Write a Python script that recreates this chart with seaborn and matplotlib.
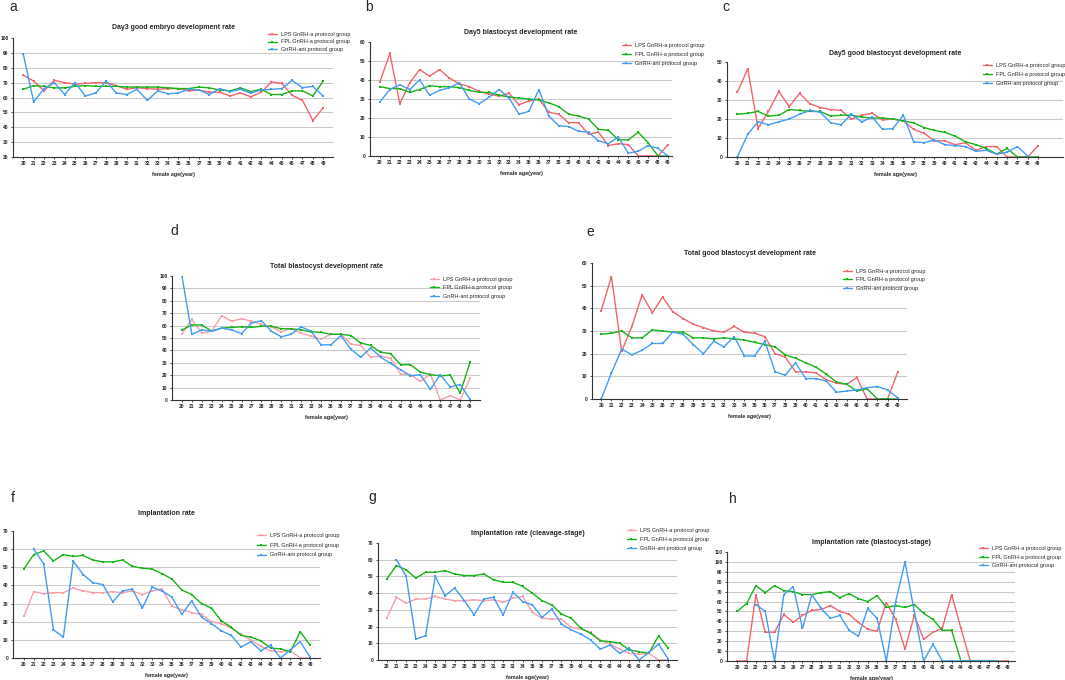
import numpy as np
import pandas as pd
import seaborn as sns
import matplotlib.pyplot as plt

nan = np.nan
ages = list(range(20, 50))
group_names = ["LPS GnRH-a protocol group", "FPL GnRH-a protocol group", "GnRH-ant protocol group"]

# a: Day3 good embryo development rate
a_lps = [75, 71, 64.5, 71.5, 70, 69, 69.5, 70, 70, 68, 65.5, 66.5, 66, 65.5, 66, 66, 64.5, 65, 63.5, 63.5,
         61, 63, 60.5, 63.5, 70.5, 69.5, 61.5, 58, 44.5, 53]
a_fpl = [65.5, 68, 67.5, 66.5, 66.5, 67.5, 68, 67.5, 67.5, 67.5, 67, 67, 67, 67, 66.5, 66, 66, 67, 66.5, 65,
         64.5, 66.5, 64, 65.5, 62, 62, 64.5, 64.5, 61, 71]
a_ant = [89, 57, 66, 70, 62, 70, 61, 63, 71, 63, 62, 65.5, 58, 64.5, 62.5, 63, 65.5, 65, 62, 66,
         64, 65.5, 63, 65, 65.5, 66, 71.5, 66.5, 67.5, 61]

# b: Day5 blastocyst development rate
b_lps = [39, 54, 27.5, 38.5, 45.5, 42, 45.5, 41, 38, 36.5, 34, 32.5, 31.5, 33, 27, 29, 30, 23, 22, 17.5,
         17.5, 11.5, 12.5, 5.5, 6.5, 6, 0, 0, 0, 6]
b_fpl = [36.5, 35.5, 35.5, 33.5, 35, 37, 36.5, 36.5, 36, 34.5, 33.5, 33.5, 32, 31, 30.5, 30, 29.5, 28, 26, 22,
         21, 19.5, 14, 13.5, 8.5, 8.5, 12.5, 7, 0, 0]
b_ant = [28.5, 35, 37.5, 35, 40, 32, 34.5, 36, 38.5, 30, 27.5, 31, 35, 30.5, 22, 23.5, 35, 21, 16, 15.5,
         13, 12.5, 8, 6.5, 10, 1.5, 2.5, 5.5, 4, 0]

# c: Day5 good blastocyst development rate
c_lps = [34, 46.5, 15, 24, 34.5, 26.5, 33.5, 28, 26, 25, 24.5, 20, 22, 23, 19.5, 20, 19, 14.5, 12.5, 8.5,
         8.5, 6.5, 7.5, 3.5, 5.5, 5.5, 0, 0, 0, 6]
c_fpl = [22.5, 23, 24, 21.5, 22, 25, 24.5, 24, 24, 21.5, 22, 22, 21, 20.5, 20.5, 20, 19, 18, 15.5, 14,
         13, 11, 8, 6.5, 4.5, 1.5, 4.5, 0, 0, 0]
c_ant = [0, 12, 18.5, 17, 18.5, 20, 22.5, 24.5, 23.5, 18, 17, 22.5, 18.5, 21, 14.5, 15, 22, 8, 7.5, 9,
         6.5, 6, 5.5, 3, 3.5, 1.5, 2.5, 5.5, 0.5, nan]

# d: Total blastocyst development rate
d_lps = [53.5, 65, 54, 55.5, 68, 63.5, 65.5, 63.5, 61, 59, 55, 57.5, 54, 51.5, 49, 53, 53, 45, 44, 34.5,
         35.5, 33.5, 21, 20.5, 15, 21, 0, 3.5, 0, 17.5]
d_fpl = [56.5, 60.5, 60.5, 55.5, 58, 58.5, 59, 58.5, 59.5, 59.5, 57.5, 57.5, 56.5, 55, 54.5, 53, 53, 52, 46, 44,
         38.5, 37.5, 28.5, 28.5, 22.5, 20.5, 19.5, 20, 5.5, 30.5]
d_ant = [100, 53, 56.5, 55.5, 58, 56.5, 53.5, 62, 64, 55.5, 51, 53, 59, 55.5, 44.5, 44.5, 52, 41, 34.5, 42,
         34.5, 29.5, 24.5, 19.5, 20.5, 8.5, 20.5, 10.5, 12.5, 0.5]

# e: Total good blastocyst development rate
e_lps = [39, 54, 21, 32, 46, 38, 45, 38.5, 35.5, 33, 31.5, 30, 29.5, 32, 29.5, 29, 27.5, 20, 18.5, 12,
         12, 11.5, 8.5, 7, 6.5, 9.5, 0, 0, 0, 12]
e_fpl = [28.5, 29, 30, 27, 27, 30.5, 30, 29.5, 29.5, 27, 27, 26.5, 27, 26.5, 26, 25, 24, 23, 19.5, 18,
         16, 14, 11, 7.5, 6.5, 3.5, 4.5, 0, 0, 0]
e_ant = [0, 11.5, 22, 19.5, 21.5, 24.5, 24.5, 29.5, 28.5, 24, 20, 25.5, 23, 27.5, 19, 19, 25.5, 12, 10.5, 16,
         9, 9, 8, 3, 3.5, 4, 5, 5.5, 4, 0.5]

# f: Implantation rate
f_lps = [23, 36.5, 35.5, 36, 36, 38.5, 37, 36, 36, 36.5, 36, 37, 35, 37, 38, 28.5, 26.5, 25, 24, 20,
         19, 16.5, 13, 10, 6.5, 4, 3.5, 4, 0, 0]
f_fpl = [49, 57, 59, 53.5, 57, 56, 56.5, 54, 53, 53, 54, 50.5, 49.5, 49, 46.5, 43.5, 37.5, 35, 30, 27.5,
         20.5, 17, 12.5, 11.5, 9.5, 5.5, 5, 3.5, 14.5, 7]
f_ant = [nan, 60, 52, 15.5, 11.5, 53.5, 46, 41.5, 40.5, 31, 37, 38, 27.5, 39, 37, 33.5, 24, 31.5, 22.5, 19,
         15, 12.5, 6, 9, 4, 7, 0, 4.5, 9, 0.5]

# g: Implantation rate (cleavage-stage)
g_lps = [25, 37.5, 34, 36.5, 36.5, 38, 36.5, 35.5, 35.5, 36, 35.5, 36, 34.5, 37, 38, 28.5, 25, 24.5, 24.5, 19.5,
         18.5, 16.5, 12, 9.5, 6.5, 4, 3.5, 4, 0, 0]
g_fpl = [48.5, 56.5, 54, 49, 52.5, 52.5, 53.5, 51.5, 50.5, 50.5, 51.5, 48, 46.5, 46.5, 44, 40, 35.5, 33, 27.5, 25,
         19, 16, 11.5, 11, 10, 6, 5, 4, 14.5, 7]
g_ant = [nan, 60, 50, 12.5, 14.5, 50, 38.5, 43, 35.5, 27, 36.5, 37.5, 27, 40.5, 35, 33, 25.5, 30.5, 21.5, 18,
         15.5, 12, 6.5, 9, 4, 7, 0, 4.5, 9.5, 0.5]

# h: Implantation rate (blastocyst-stage)
h_lps = [0, 0, 67, 29, 29, 47, 39, 46, 51, 52, 56, 50, 47, 39, 32, 30, 59, 42, 12, 46,
         22, 29, 33, 67, 33, 0, 0, 0, 0, 0]
h_fpl = [50, 58, 76, 69, 76, 71, 70, 67, 67, 69, 70, 64, 68, 63, 60, 66, 54, 56, 54, 57,
         48, 42, 31, 31, 0, 0, 0, 0, 0, nan]
h_ant = [nan, nan, 57, 50, 0, 67, 75, 33, 67, 53, 43, 46, 31, 25, 53, 43, 0, 60, 100, 50,
         0, 17, 0, 0, 0, 0, 0, 0, 0, nan]

W, H = 1065, 680
RED = "#f2646c"
PINK = "#f5a0a9"
GREEN = "#17b317"
BLUE = "#439cf3"


def px_rect(x0, y0, x1, y1):
    return [x0 / W, 1 - y1 / H, (x1 - x0) / W, (y1 - y0) / H]


# letter, title, series, ylim, axes box (px), xlim, title pad, letter xy (px), legend xy (px), legend spacing, red tone
panels = [
    ("a", "Day3 good embryo development rate", (a_lps, a_fpl, a_ant), (20, 100),
     (13, 38, 333, 157), (19.0, 49.95), 6.8, (13, 7), (268, 32), 0.45, RED),
    ("b", "Day5 blastocyst development rate", (b_lps, b_fpl, b_ant), (0, 60),
     (370, 42, 672, 156), (19.0, 49.4), 6.1, (369, 7), (622, 43), 0.75, RED),
    ("c", "Day5 good blastocyst development rate", (c_lps, c_fpl, c_ant), (0, 50),
     (727, 62, 1063, 157), (19.0, 51.4), 5.4, (726, 7), (983, 63), 0.7, RED),
    ("d", "Total blastocyst development rate", (d_lps, d_fpl, d_ant), (0, 100),
     (172, 276, 480, 400), (19.0, 50.0), 5.4, (174, 231), (430, 277), 0.6, PINK),
    ("e", "Total good blastocyst development rate", (e_lps, e_fpl, e_ant), (0, 60),
     (592, 263, 907, 399), (19.1, 49.9), 5.8, (590, 232), (843, 269), 0.6, RED),
    ("f", "Implantation rate", (f_lps, f_fpl, f_ant), (0, 70),
     (13, 531, 320, 658), (18.9, 50.0), 11.2, (13, 498), (257, 533), 0.85, PINK),
    ("g", "Implantation rate (cleavage-stage)", (g_lps, g_fpl, g_ant), (0, 70),
     (378, 543, 677, 660), (19.1, 49.9), 6.1, (372, 497), (627, 528), 0.75, PINK),
    ("h", "Implantation rate (blastocyst-stage)", (h_lps, h_fpl, h_ant), (0, 110),
     (727, 552, 1015, 661), (18.9, 49.8), 6.1, (733, 499), (979, 546), 0.65, RED),
]

sns.set_style("ticks")
plt.rcParams["font.family"] = ["Liberation Sans", "DejaVu Sans"]

fig = plt.figure(figsize=(W / 100, H / 100), dpi=100)

for letter, title, series, ylim, box, xlim, tpad, lxy, legxy, lspace, red in panels:
    ax = fig.add_axes(px_rect(*box))
    colors = [red, GREEN, BLUE]
    for name, vals, col in zip(group_names, series, colors):
        df = pd.DataFrame({"age": ages, "rate": vals}).dropna()
        sns.lineplot(data=df, x="age", y="rate", ax=ax, color=col, label=name,
                     marker="s", markersize=2.0, markeredgewidth=0, linewidth=1.0,
                     errorbar=None)

    ax.set_xlim(*xlim)
    ax.set_ylim(*ylim)
    ax.set_xticks(ages)
    ax.set_yticks(range(ylim[0], ylim[1] + 1, 10))
    # light solid grid, none on the top tick
    for yv in range(ylim[0] + 10, ylim[1], 10):
        ax.axhline(yv, color="#cacaca", lw=0.8, zorder=0)
    ax.tick_params(axis="both", labelsize=3.5, length=1.6, width=0.6, pad=1.5, color="#333333")
    for lab in ax.get_xticklabels() + ax.get_yticklabels():
        lab.set_fontweight("bold")
    for s in ["top", "right"]:
        ax.spines[s].set_visible(False)
    for s in ["left", "bottom"]:
        ax.spines[s].set_linewidth(0.8)
        ax.spines[s].set_color("#333333")
    ax.set_xlabel("female age(year)", fontsize=3.9, fontweight="bold", labelpad=4)
    ax.set_ylabel("")
    ax.set_title(title, fontsize=5, fontweight="bold", pad=tpad)

    ax.legend(loc="upper left", bbox_to_anchor=(legxy[0] / W, 1 - legxy[1] / H),
              bbox_transform=fig.transFigure, frameon=False, fontsize=4,
              borderpad=0, borderaxespad=0, handlelength=1.6, handletextpad=0.7,
              labelspacing=lspace)

    fig.text(lxy[0] / W, 1 - lxy[1] / H, letter, fontsize=10, ha="center", va="center")

fig.savefig("out.png", dpi=100)
